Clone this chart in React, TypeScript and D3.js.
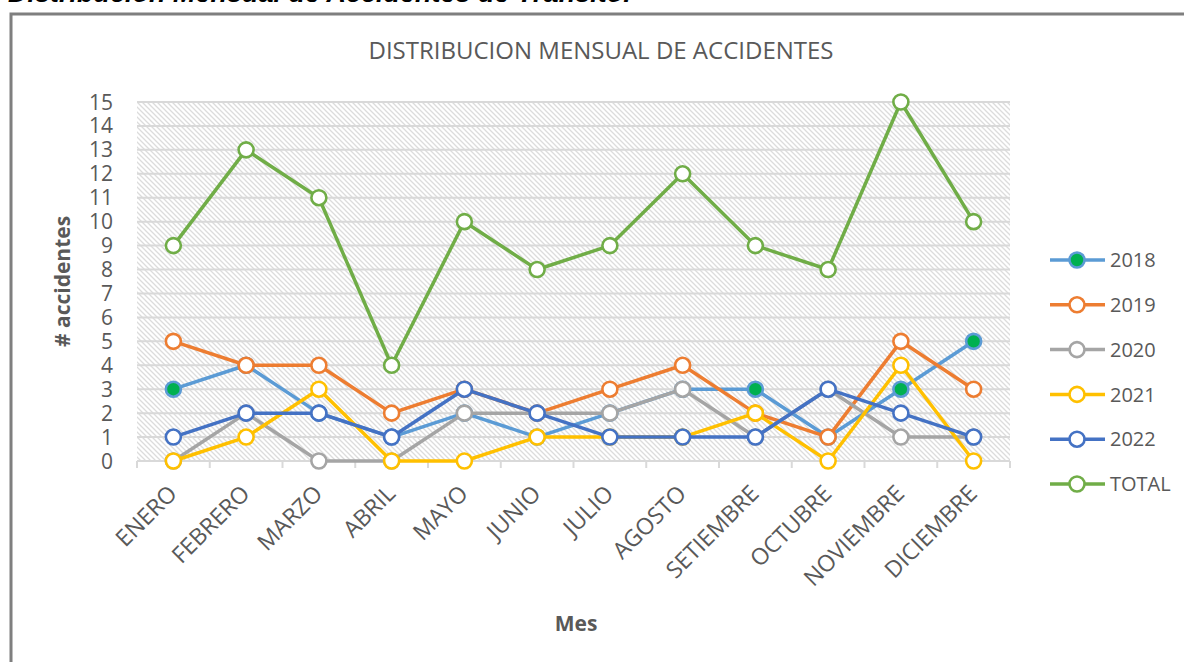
import React from "react";
import * as d3 from "d3";

// data
const months = [
  "ENERO", "FEBRERO", "MARZO", "ABRIL", "MAYO", "JUNIO",
  "JULIO", "AGOSTO", "SETIEMBRE", "OCTUBRE", "NOVIEMBRE", "DICIEMBRE",
];
const y2018 = [3, 4, 2, 1, 2, 1, 2, 3, 3, 1, 3, 5];
const y2019 = [5, 4, 4, 2, 3, 2, 3, 4, 2, 1, 5, 3];
const y2020 = [0, 2, 0, 0, 2, 2, 2, 3, 1, 3, 1, 1];
const y2021 = [0, 1, 3, 0, 0, 1, 1, 1, 2, 0, 4, 0];
const y2022 = [1, 2, 2, 1, 3, 2, 1, 1, 1, 3, 2, 1];
const total = [9, 13, 11, 4, 10, 8, 9, 12, 9, 8, 15, 10];
const yTicks = d3.range(0, 16);

const series = [
  { name: "2018", values: y2018, color: "#5B9BD5", fill: "#00B050" },
  { name: "2019", values: y2019, color: "#ED7D31", fill: "#FFFFFF" },
  { name: "2020", values: y2020, color: "#A5A5A5", fill: "#FFFFFF" },
  { name: "2021", values: y2021, color: "#FFC000", fill: "#FFFFFF" },
  { name: "2022", values: y2022, color: "#4472C4", fill: "#FFFFFF" },
  { name: "TOTAL", values: total, color: "#70AD47", fill: "#FFFFFF" },
];

const W = 1184;
const H = 662;
const plot = { left: 137, right: 1010, top: 102, bottom: 461 };
const font = "'Open Sans', 'Noto Sans', sans-serif";
const textColor = "#595959";

export default function App() {
  const x = d3
    .scaleBand<string>()
    .domain(months)
    .range([plot.left, plot.right]);
  const y = d3.scaleLinear().domain([0, 15]).range([plot.bottom, plot.top]);
  const cx = (i: number) => (x(months[i]) as number) + x.bandwidth() / 2;

  const line = d3
    .line<number>()
    .x((_, i) => cx(i))
    .y((d) => y(d));

  const boundaries = months.map((m) => x(m) as number).concat([plot.right]);
  const legendY = d3.scaleLinear().domain([0, 5]).range([260, 484]);

  return (
    <svg
      width={W}
      height={H}
      style={{ position: "absolute", left: 0, top: 0, background: "#fff" }}
    >
      <defs>
        <pattern id="hatch" patternUnits="userSpaceOnUse" width={5} height={5}>
          <path
            d="M-1,-1 L6,6 M-1,4 L1,6 M4,-1 L6,1"
            stroke="#DCDCDC"
            strokeWidth={1.3}
          />
        </pattern>
      </defs>

      {/* document caption, cut at the top of the page */}
      <text
        x={8}
        y={2}
        fontFamily="'Liberation Sans', Arial, sans-serif"
        fontStyle="italic"
        fontWeight="bold"
        fontSize={27}
        fill="#000"
      >
        Distribución Mensual de Accidentes de Tránsito.
      </text>

      {/* outer frame */}
      <path
        d={`M11,${H} L11,14 L${W},14`}
        fill="none"
        stroke="#7F7F7F"
        strokeWidth={3}
      />

      <text
        x={601}
        y={59}
        textAnchor="middle"
        fontFamily={font}
        fontSize={24}
        fill={textColor}
      >
        DISTRIBUCION MENSUAL DE ACCIDENTES
      </text>

      {/* plot area */}
      <rect
        x={plot.left}
        y={plot.top}
        width={plot.right - plot.left}
        height={plot.bottom - plot.top}
        fill="url(#hatch)"
      />
      {yTicks.map((t) => (
        <g key={t}>
          <line
            x1={plot.left}
            x2={plot.right}
            y1={y(t)}
            y2={y(t)}
            stroke="#D9D9D9"
            strokeWidth={2}
          />
          <text
            x={113}
            y={y(t)}
            dy="0.36em"
            textAnchor="end"
            fontFamily={font}
            fontSize={21}
            fill={textColor}
          >
            {t}
          </text>
        </g>
      ))}
      {boundaries.map((b, i) => (
        <line
          key={i}
          x1={b}
          x2={b}
          y1={plot.bottom}
          y2={plot.bottom + 7}
          stroke="#D9D9D9"
          strokeWidth={2}
        />
      ))}

      {/* month labels */}
      {months.map((m, i) => (
        <text
          key={m}
          transform={`translate(${cx(i) + 5},${plot.bottom + 34}) rotate(-45)`}
          textAnchor="end"
          fontFamily={font}
          fontSize={23}
          fill={textColor}
        >
          {m}
        </text>
      ))}

      <text
        transform={`translate(70,${(plot.top + plot.bottom) / 2}) rotate(-90)`}
        textAnchor="middle"
        fontFamily={font}
        fontWeight="bold"
        fontSize={21}
        fill={textColor}
      >
        # accidentes
      </text>
      <text
        x={576}
        y={631}
        textAnchor="middle"
        fontFamily={font}
        fontWeight="bold"
        fontSize={21}
        fill={textColor}
      >
        Mes
      </text>

      {/* series */}
      {series.map((s) => (
        <g key={s.name}>
          <path
            d={line(s.values) as string}
            fill="none"
            stroke={s.color}
            strokeWidth={3.5}
            strokeLinejoin="round"
          />
          {s.values.map((v, i) => (
            <circle
              key={i}
              cx={cx(i)}
              cy={y(v)}
              r={7.5}
              fill={s.fill}
              stroke={s.color}
              strokeWidth={2.6}
            />
          ))}
        </g>
      ))}

      {/* legend */}
      {series.map((s, i) => (
        <g key={s.name} transform={`translate(1050,${legendY(i)})`}>
          <line x1={0} x2={55} y1={0} y2={0} stroke={s.color} strokeWidth={3.5} />
          <circle
            cx={27}
            cy={0}
            r={7.5}
            fill={s.fill}
            stroke={s.color}
            strokeWidth={2.6}
          />
          <text
            x={60}
            y={0}
            dy="0.36em"
            fontFamily={font}
            fontSize={20}
            fill={textColor}
          >
            {s.name}
          </text>
        </g>
      ))}
    </svg>
  );
}
